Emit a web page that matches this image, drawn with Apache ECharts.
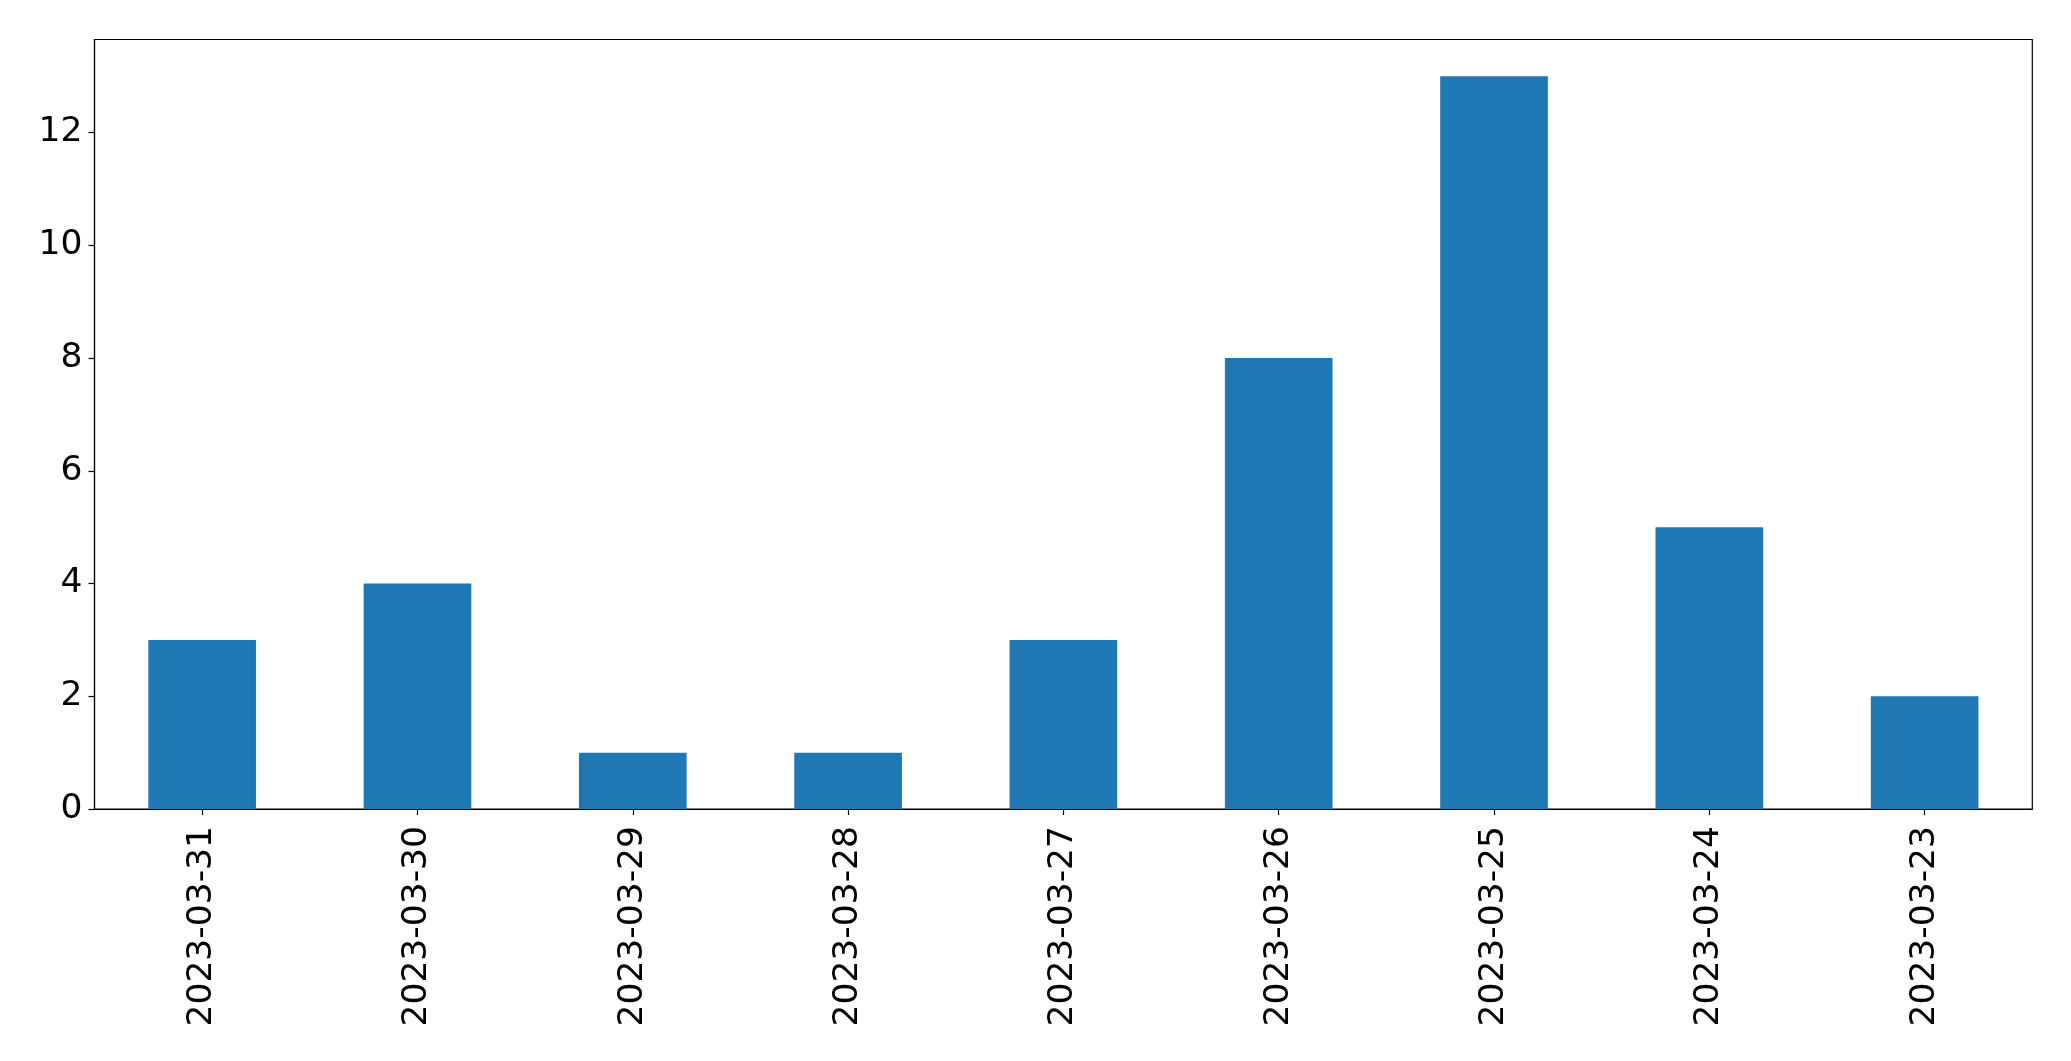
<!DOCTYPE html>
<html><head><meta charset="utf-8">
<script src="https://cdn.jsdelivr.net/npm/echarts@6/dist/echarts.min.js"></script>
<style>html,body{margin:0;padding:0;background:#fff}#c{width:2071px;height:1061px}</style>
</head><body><div id="c"></div>
<script>
const categories = ["2023-03-31","2023-03-30","2023-03-29","2023-03-28","2023-03-27","2023-03-26","2023-03-25","2023-03-24","2023-03-23"];
const values = [3,4,1,1,3,8,13,5,2];
const yTicks = [0,2,4,6,8,10,12];

const chart = echarts.init(document.getElementById('c'), null, {renderer:'canvas'});
const font = '"DejaVu Sans", sans-serif';
chart.setOption({
  animation:false,
  backgroundColor:'#fff',
  grid:{left:94.5,top:39.5,right:38.7,bottom:252,show:true,borderColor:'#000',borderWidth:1.2,backgroundColor:'transparent'},
  xAxis:{type:'category',data:categories,
    axisLine:{show:true,lineStyle:{color:'#000',width:1.2}},
    axisTick:{show:true,alignWithLabel:true,length:6,lineStyle:{color:'#000',width:1.2}},
    axisLabel:{rotate:90,interval:0,fontSize:34.5,fontFamily:font,color:'#000',margin:17},
    splitLine:{show:false}},
  yAxis:{type:'value',min:0,max:13.65,
    axisLine:{show:true,lineStyle:{color:'#000',width:1.2}},
    axisTick:{show:true,length:6,customValues:yTicks,lineStyle:{color:'#000',width:1.2}},
    axisLabel:{fontSize:34.5,fontFamily:font,color:'#000',margin:12,customValues:yTicks},
    splitLine:{show:false}},
  series:[{type:'bar',data:values,barWidth:'50%',itemStyle:{color:'#1f77b4'}}]
});
</script></body></html>
